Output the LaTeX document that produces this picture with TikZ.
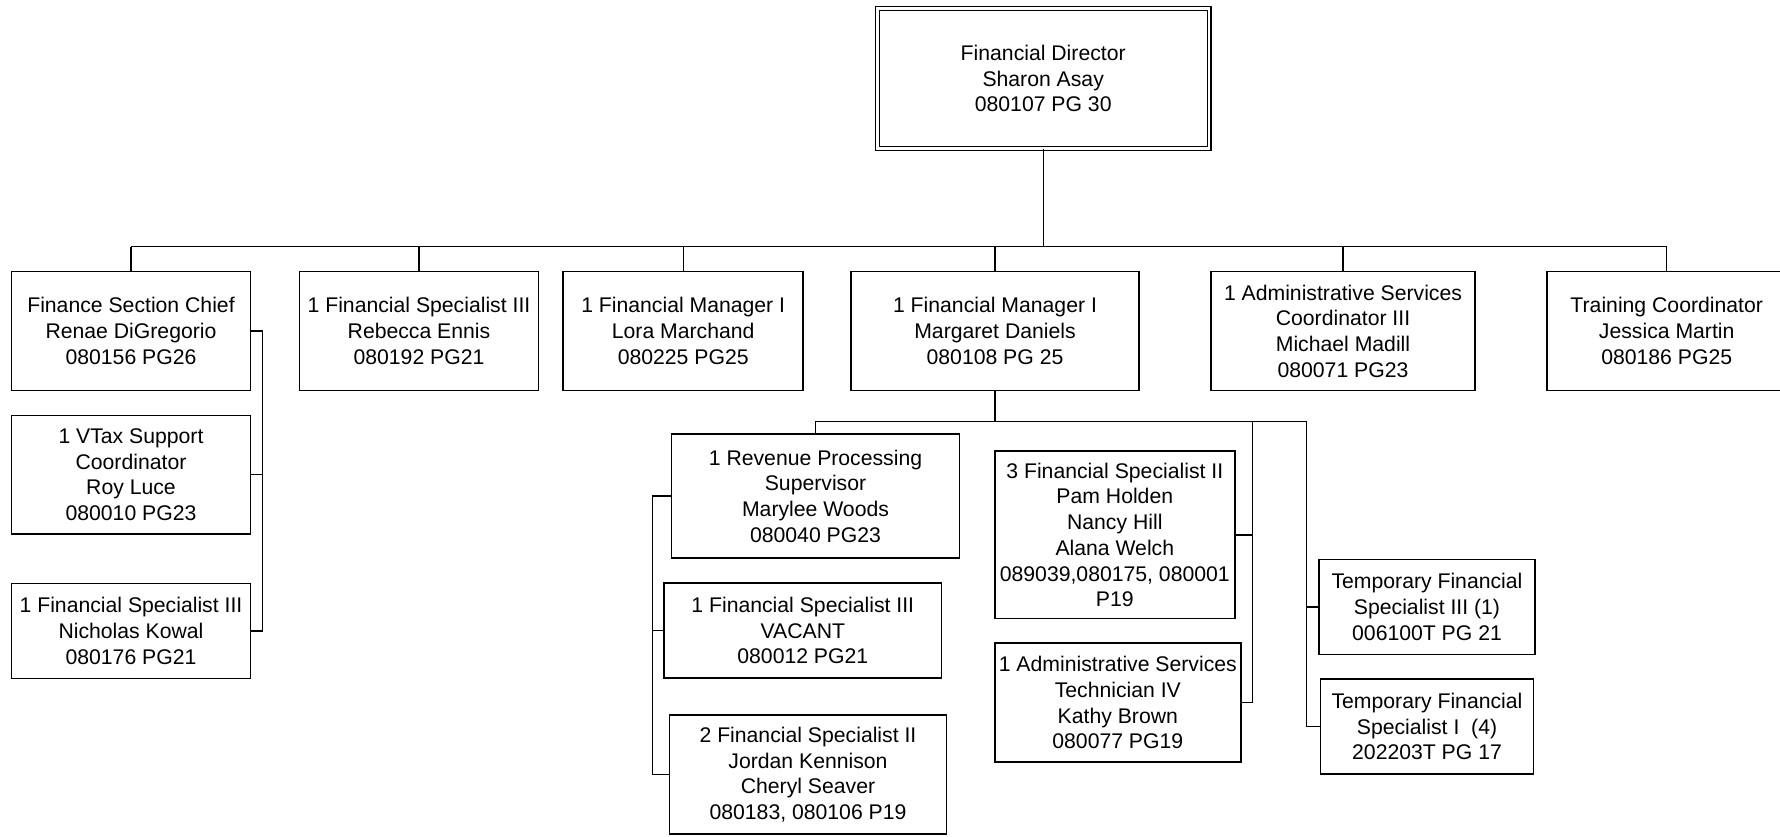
\documentclass[tikz,border=0pt]{standalone}
\usepackage{fontspec}
\setmainfont{Liberation Sans}
\begin{document}
\begin{tikzpicture}[x=0.5pt,y=-0.5pt,
  box/.style n args={2}{draw, line width=0.8pt, rectangle, inner sep=0pt, align=center,
    minimum width=#1*0.5pt, minimum height=#2*0.5pt,
    font=\fontsize{10.6}{12.85}\selectfont},
  link/.style={draw, line width=0.6pt}]
\clip (0,0) rectangle (1780,836);

% director
\node[box={331.8}{139.8}, line width=0.7pt, double, double distance=1.2pt] (dir) at (1043.2,78.5)
  {Financial Director\\Sharon Asay\\080107 PG 30};

% level 1
\node[box={239}{119}] (fsc) at (131,331) {Finance Section Chief\\Renae DiGregorio\\080156 PG26};
\node[box={239}{119}] (fs3a) at (419,331) {1 Financial Specialist III\\Rebecca Ennis\\080192 PG21};
\node[box={240}{119}] (fm1) at (683.2,331) {1 Financial Manager I\\Lora Marchand\\080225 PG25};
\node[box={287.6}{119}] (fm2) at (995,331) {1 Financial Manager I\\Margaret Daniels\\080108 PG 25};
\node[box={263.6}{119}] (asc) at (1343,331) {1 Administrative Services\\Coordinator III\\Michael Madill\\080071 PG23};
\node[box={239}{119}] (tc) at (1666.7,331) {Training Coordinator\\Jessica Martin\\080186 PG25};

% under finance section chief
\node[box={239}{118.7}] (vtax) at (131,474.8) {1 VTax Support\\Coordinator\\Roy Luce\\080010 PG23};
\node[box={239}{95}] (fs3b) at (131,631) {1 Financial Specialist III\\Nicholas Kowal\\080176 PG21};

% under Margaret Daniels
\node[box={288}{124.4}] (rps) at (815.5,496) {1 Revenue Processing\\Supervisor\\Marylee Woods\\080040 PG23};
\node[box={277.3}{95}] (vac) at (802.8,630.7) {1 Financial Specialist III\\VACANT\\080012 PG21};
\node[box={277}{119}] (fs2) at (808,774.7) {2 Financial Specialist II\\Jordan Kennison\\Cheryl Seaver\\080183, 080106 P19};
\node[box={240}{167.3}] (pam) at (1114.8,534.9) {3 Financial Specialist II\\Pam Holden\\Nancy Hill\\Alana Welch\\089039,080175, 080001\\P19};
\node[box={246}{119}] (kathy) at (1117.8,702.7) {1 Administrative Services\\Technician IV\\Kathy Brown\\080077 PG19};
\node[box={215.6}{95}] (temp1) at (1427,607) {Temporary Financial\\Specialist III (1)\\006100T PG 21};
\node[box={213}{95}] (temp2) at (1427,726.7) {Temporary Financial\\Specialist I\ \ (4)\\202203T PG 17};

% helper coordinates
\coordinate (bus) at (0,246.7);
\coordinate (lbus) at (0,421.7);
\coordinate (fx) at (262.7,0);
\coordinate (lx) at (652.3,0);
\coordinate (mx) at (1252.7,0);
\coordinate (tx) at (1306.7,0);

% top connectors
\draw[link] (dir.south) -- (dir.south |- bus);
\draw[link, line width=0.7pt] (fsc.north |- bus) -- (tc.north |- bus);
\foreach \n in {fsc,fs3a,fm1,fm2,asc,tc}
  \draw[link] (\n.north) -- (\n.north |- bus);

% finance section chief side connector
\draw[link] (fsc.east) -- (fsc.east -| fx) -- (fs3b.east -| fx) -- (fs3b.east);
\draw[link] (vtax.east) -- (vtax.east -| fx);

% Margaret Daniels connectors
\draw[link] (fm2.south) -- (fm2.south |- lbus);
\draw[link] (rps.north) -- (rps.north |- lbus) -- (lbus -| tx) -- (temp2.west -| tx) -- (temp2.west);
\draw[link] (temp1.west) -- (temp1.west -| tx);
\draw[link] (lbus -| mx) -- (kathy.east -| mx) -- (kathy.east);
\draw[link] (pam.east) -- (pam.east -| mx);
\draw[link] (rps.west) -- (rps.west -| lx) -- (fs2.west -| lx) -- (fs2.west);
\draw[link] (vac.west) -- (vac.west -| lx);
\end{tikzpicture}
\end{document}
